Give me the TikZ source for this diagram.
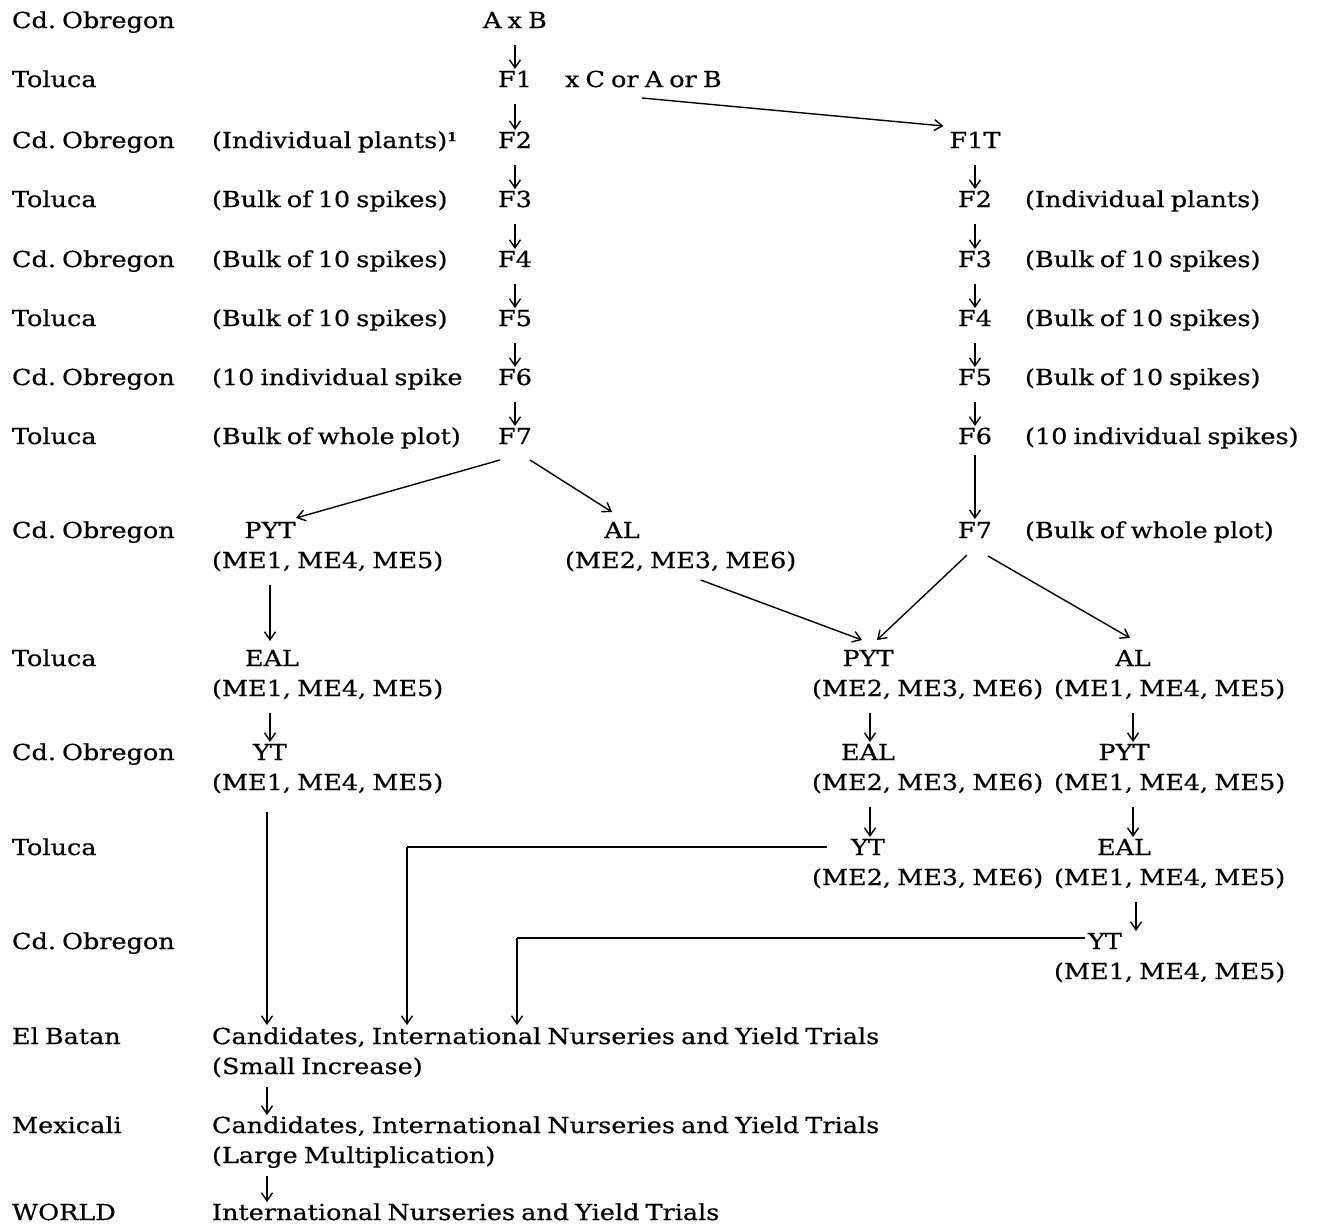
\documentclass[tikz,border=0pt]{standalone}
\usepackage{fontspec}
\setmainfont{DejaVu Serif}[FakeStretch=1.16,WordSpace=0.75,FakeBold=0.5]
\usetikzlibrary{arrows.meta,calc}
\frenchspacing
\begin{document}
\begin{tikzpicture}[x=1pt,y=-1pt,
  every node/.style={inner sep=0pt, outer sep=0pt, text height=16pt, text depth=0pt,
    font=\fontsize{22}{26}\selectfont},
  lab/.style={anchor=west},
  arr/.style={line width=1.4pt, -{Straight Barb[length=8pt,width=11pt]}},
  sa/.style={arr, shorten <=17pt, shorten >=2pt},
  ln/.style={line width=1.4pt}]
\useasboundingbox[fill=white] (0,0) rectangle (1320,1224);

% ---- place column
\foreach \y/\t [count=\i] in {20/Cd. Obregon,79/Toluca,140/Cd. Obregon,199/Toluca,259/Cd. Obregon,318/Toluca,377/Cd. Obregon,436/Toluca,530/Cd. Obregon,658/Toluca,752/Cd. Obregon,847/Toluca,941/Cd. Obregon,1036/El Batan,1125/Mexicali,1212/WORLD}
  \node[lab] (loc\i) at (12,\y) {\t};

% ---- left main column
\node (axb) at (515,20) {A x B};
\node (f1) at (515,79) {F1};
\node[lab] (xc) at (565,79) {x C or A or B};
\node (f2) at (515,140) {F2};
\node (f3) at (515,199) {F3};
\node (f4) at (515,259) {F4};
\node (f5) at (515,318) {F5};
\node (f6) at (515,377) {F6};
\node (f7) at (515,436) {F7};

\node[lab] (n3) at (212,140) {(Individual plants)\raisebox{7pt}{\fontsize{12}{12}\selectfont\bfseries 1}};
\node[lab] (n4) at (212,199) {(Bulk of 10 spikes)};
\node[lab] (n5) at (212,259) {(Bulk of 10 spikes)};
\node[lab] (n6) at (212,318) {(Bulk of 10 spikes)};
\node[lab] (n7) at (212,377) {(10 individual spike};
\node[lab] (n8) at (212,436) {(Bulk of whole plot)};

% ---- right column
\node (f1t) at (975,140) {F1T};
\node (g2) at (975,199) {F2};
\node (g3) at (975,259) {F3};
\node (g4) at (975,318) {F4};
\node (g5) at (975,377) {F5};
\node (g6) at (975,436) {F6};
\node (g7) at (975,530) {F7};
\node[lab] (m4) at (1025,199) {(Individual plants)};
\node[lab] (m5) at (1025,259) {(Bulk of 10 spikes)};
\node[lab] (m6) at (1025,318) {(Bulk of 10 spikes)};
\node[lab] (m7) at (1025,377) {(Bulk of 10 spikes)};
\node[lab] (m8) at (1025,436) {(10 individual spikes)};
\node[lab] (m9) at (1025,530) {(Bulk of whole plot)};

% ---- trial blocks
\node (pytA) at (270,530) {PYT};
\node[lab] (pytAs) at (212,560) {(ME1, ME4, ME5)};
\node (alA) at (622,530) {AL};
\node[lab] (alAs) at (565,560) {(ME2, ME3, ME6)};

\node (ealA) at (272,658) {EAL};
\node[lab] (ealAs) at (212,688) {(ME1, ME4, ME5)};
\node (ytA) at (270,752) {YT};
\node[lab] (ytAs) at (212,782) {(ME1, ME4, ME5)};

\node (pytB) at (868,658) {PYT};
\node[lab] (pytBs) at (812,688) {(ME2, ME3, ME6)};
\node (ealB) at (868,752) {EAL};
\node[lab] (ealBs) at (812,782) {(ME2, ME3, ME6)};
\node (ytB) at (868,847) {YT};
\node[lab] (ytBs) at (812,877) {(ME2, ME3, ME6)};

\node (alC) at (1133,658) {AL};
\node[lab] (alCs) at (1054,688) {(ME1, ME4, ME5)};
\node (pytC) at (1124,752) {PYT};
\node[lab] (pytCs) at (1054,782) {(ME1, ME4, ME5)};
\node (ealC) at (1124,847) {EAL};
\node[lab] (ealCs) at (1054,877) {(ME1, ME4, ME5)};
\node (ytC) at (1105,941) {YT};
\node[lab] (ytCs) at (1054,971) {(ME1, ME4, ME5)};

\node[lab] (cand1) at (212,1036) {Candidates, International Nurseries and Yield Trials};
\node[lab] (cand1s) at (212,1066) {(Small Increase)};
\node[lab] (cand2) at (212,1125) {Candidates, International Nurseries and Yield Trials};
\node[lab] (cand2s) at (212,1155) {(Large Multiplication)};
\node[lab] (world) at (212,1212) {International Nurseries and Yield Trials};

% ---- short arrows, main column
\draw[sa] (axb.south) -- (f1.north);
\draw[sa] (f1.south) -- (f2.north);
\draw[sa] (f2.south) -- (f3.north);
\draw[sa] (f3.south) -- (f4.north);
\draw[sa] (f4.south) -- (f5.north);
\draw[sa] (f5.south) -- (f6.north);
\draw[sa] (f6.south) -- (f7.north);
% right column
\draw[sa] (f1t.south) -- (g2.north);
\draw[sa] (g2.south) -- (g3.north);
\draw[sa] (g3.south) -- (g4.north);
\draw[sa] (g4.south) -- (g5.north);
\draw[sa] (g5.south) -- (g6.north);
\draw[arr, shorten <=11pt, shorten >=3pt] (g6.south) -- (g7.north);

% cross to F1T
\coordinate (xcA) at (642,98);
\draw[arr] (xcA) -- ($(f1t.north west)+(-6,-6)$);

% F7 split (left)
\draw[arr] ($(f7.south)+(-15,16)$) -- ($(pytA.north)+(26,-4)$);
\draw[arr] ($(f7.south)+(15,16)$) -- ($(alA.north)+(-10,-10)$);
% F7 split (right)
\draw[arr] ($(g7.south)+(-8,17)$) -- ($(pytB.north)+(9,-10)$);
\draw[arr] ($(g7.south)+(13,18)$) -- ($(alC.north)+(-3,-12)$);
% AL (left) to PYT (right)
\draw[arr] ($(alAs.south)+(20,12)$) -- ($(pytB.north)+(-6,-10)$);

% left chain
\draw[arr, shorten <=17pt, shorten >=9pt] (pytA.south |- pytAs.south) -- (pytA.south |- ealA.north);
\draw[sa] (ytA.south |- ealAs.south) -- (ytA.north);
\coordinate (yA) at ($(ytAs.south west)+(55,0)$);
\draw[arr, shorten <=22pt, shorten >=3pt] (yA) -- (yA |- cand1.north);

% middle chain
\draw[sa] ([xshift=2pt]pytB.south |- pytBs.south) -- ([xshift=2pt]ealB.north);
\draw[sa] ([xshift=2pt]ealB.south |- ealBs.south) -- ([xshift=2pt]ytB.north);
% right chain
\draw[sa] (alC.south |- alCs.south) -- (alC.south |- pytC.north);
\draw[sa] ([xshift=9pt]pytC.south |- pytCs.south) -- ([xshift=9pt]ealC.north);
\draw[sa] ([xshift=12pt]ealC.south |- ealCs.south) -- ([xshift=31pt]ytC.north);

% joins to candidates
\coordinate (jB) at (407,847);
\draw[ln] ($(ytB.west)+(-24,0)$) -- (jB);
\draw[arr, shorten >=3pt] (jB) -- (jB |- cand1.north);
\coordinate (jC) at (517,938);
\draw[ln] ($(ytC.west)+(-3,-3)$) -- (jC);
\draw[arr, shorten >=3pt] (jC) -- (jC |- cand1.north);

% bottom
\coordinate (c1) at ($(cand1s.south west)+(55,0)$);
\coordinate (c2) at ($(cand2s.south west)+(55,0)$);
\draw[arr, shorten <=13pt, shorten >=2pt] (c1) -- (c1 |- cand2.north);
\draw[arr, shorten <=13pt, shorten >=2pt] (c2) -- (c2 |- world.north);
\end{tikzpicture}
\end{document}
